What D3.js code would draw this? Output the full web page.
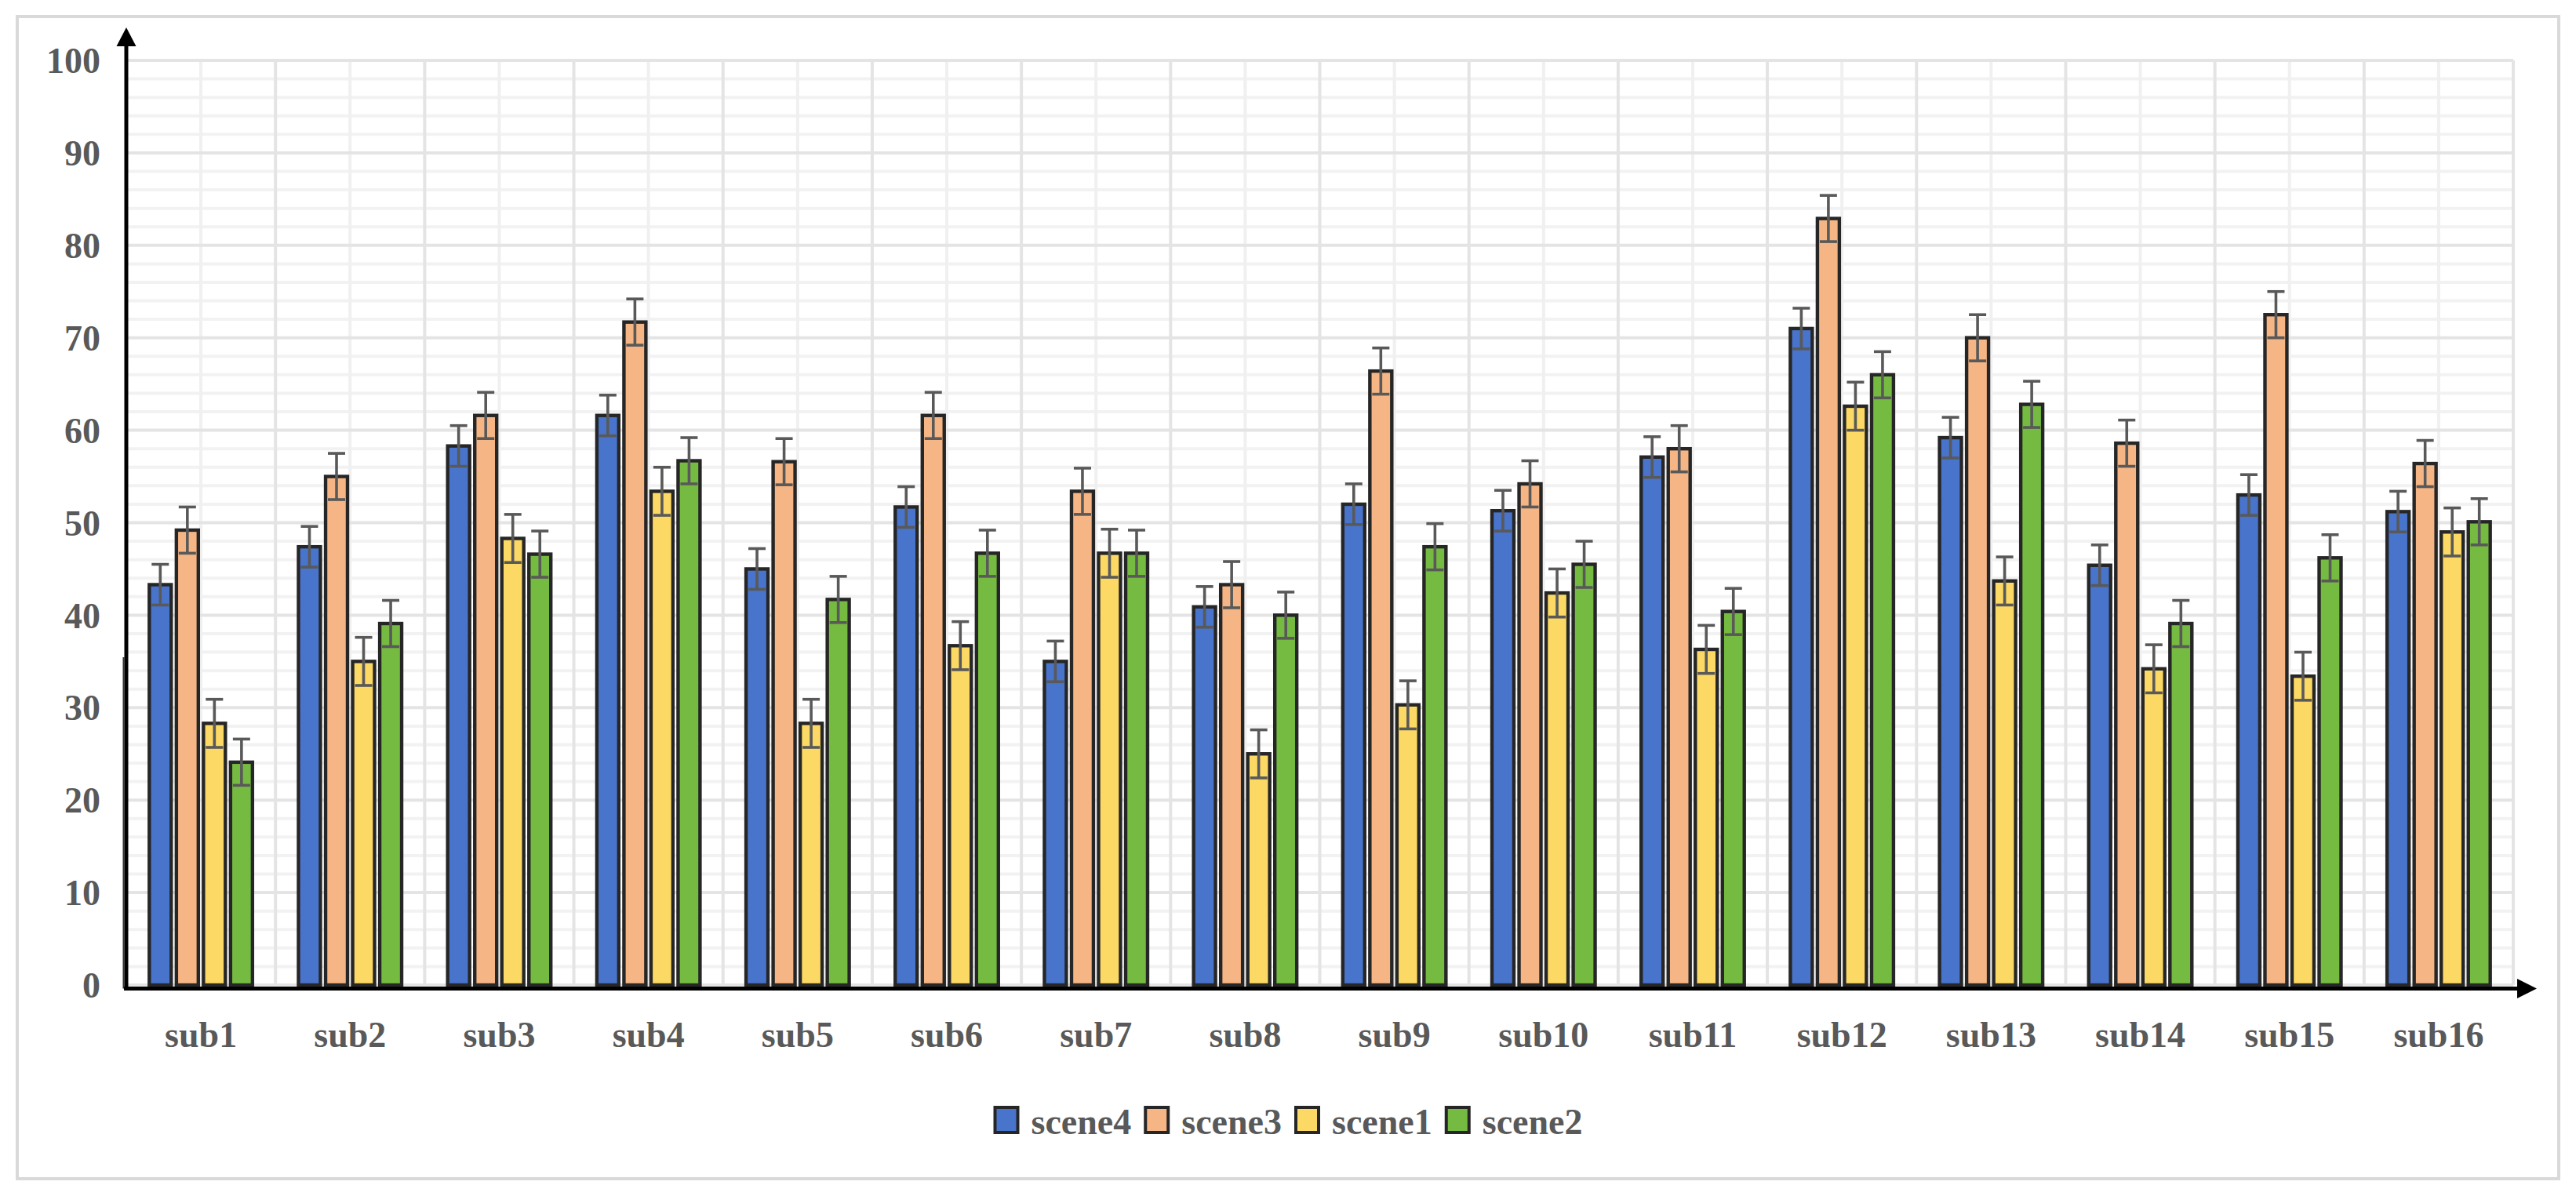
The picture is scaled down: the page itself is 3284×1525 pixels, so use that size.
<!DOCTYPE html>
<html>
<head>
<meta charset="utf-8">
<script src="https://cdn.jsdelivr.net/npm/d3@7"></script>
<style>
  body { margin: 0; background: #fff; }
  text { font-family: "Liberation Serif", "Times New Roman", serif; font-weight: bold; }
</style>
</head>
<body>
<script>
const width = 3284;
const height = 1525;

// data
const categories = ["sub1", "sub2", "sub3", "sub4", "sub5", "sub6", "sub7", "sub8",
                    "sub9", "sub10", "sub11", "sub12", "sub13", "sub14", "sub15", "sub16"];
const seriesNames = ["scene4", "scene3", "scene1", "scene2"];
const scene4 = [43.3, 47.4, 58.3, 61.6, 45.0, 51.7, 35.0, 40.9, 52.0, 51.3, 57.1, 71.0, 59.2, 45.4, 53.0, 51.2];
const scene3 = [49.2, 55.0, 61.6, 71.7, 56.6, 61.6, 53.4, 43.3, 66.4, 54.2, 58.0, 82.9, 70.0, 58.6, 72.5, 56.4];
const scene1 = [28.3, 35.0, 48.3, 53.4, 28.3, 36.7, 46.7, 25.0, 30.3, 42.4, 36.3, 62.6, 43.7, 34.2, 33.4, 49.0];
const scene2 = [24.1, 39.1, 46.6, 56.7, 41.7, 46.7, 46.7, 40.0, 47.4, 45.5, 40.4, 66.0, 62.8, 39.1, 46.2, 50.1];
const err4 = [2.2, 2.2, 2.2, 2.2, 2.2, 2.2, 2.2, 2.2, 2.2, 2.2, 2.2, 2.2, 2.2, 2.2, 2.2, 2.2];
const err3 = [2.5, 2.5, 2.5, 2.5, 2.5, 2.5, 2.5, 2.5, 2.5, 2.5, 2.5, 2.5, 2.5, 2.5, 2.5, 2.5];
const err1 = [2.6, 2.6, 2.6, 2.6, 2.6, 2.6, 2.6, 2.6, 2.6, 2.6, 2.6, 2.6, 2.6, 2.6, 2.6, 2.6];
const err2 = [2.5, 2.5, 2.5, 2.5, 2.5, 2.5, 2.5, 2.5, 2.5, 2.5, 2.5, 2.5, 2.5, 2.5, 2.5, 2.5];
const yTicks = [0, 10, 20, 30, 40, 50, 60, 70, 80, 90, 100];

const values = { scene4: scene4, scene3: scene3, scene1: scene1, scene2: scene2 };
const errors = { scene4: err4, scene3: err3, scene1: err1, scene2: err2 };
const colors = { scene4: "#4874CB", scene3: "#F5B584", scene1: "#FCD964", scene2: "#76BB41" };

const svg = d3.select("body").append("svg")
    .attr("width", width).attr("height", height);

// outer frame
svg.append("rect")
    .attr("x", 22).attr("y", 21).attr("width", 3240).attr("height", 1482)
    .attr("fill", "#fff").attr("stroke", "#d9d9d9").attr("stroke-width", 4);

const x0 = d3.scaleBand().domain(categories).range([161, 3204])
    .paddingInner(0.274).paddingOuter(0.137);
const x1 = d3.scaleBand().domain(seriesNames).range([0, x0.bandwidth()])
    .paddingInner(0.19).paddingOuter(0.095);
const y = d3.scaleLinear().domain([0, 100]).range([1256, 77]);

const left = x0.range()[0], right = x0.range()[1];
const mid = c => x0(c) + x0.bandwidth() / 2;

// grid: minor first, then major
const grid = svg.append("g");
grid.selectAll(".hminor").data(y.ticks(50).filter(t => t % 10 !== 0)).enter().append("line")
    .attr("x1", left).attr("x2", right).attr("y1", d => y(d)).attr("y2", d => y(d))
    .attr("stroke", "#f2f2f2").attr("stroke-width", 4);
grid.selectAll(".vminor").data(categories).enter().append("line")
    .attr("x1", d => mid(d)).attr("x2", d => mid(d)).attr("y1", y(100)).attr("y2", y(0))
    .attr("stroke", "#f0f0f0").attr("stroke-width", 4);
grid.selectAll(".hmajor").data(yTicks).enter().append("line")
    .attr("x1", left).attr("x2", right).attr("y1", d => y(d)).attr("y2", d => y(d))
    .attr("stroke", "#e4e4e4").attr("stroke-width", 4);
grid.selectAll(".vmajor").data(categories).enter().append("line")
    .attr("x1", d => mid(d) + x0.step() / 2).attr("x2", d => mid(d) + x0.step() / 2)
    .attr("y1", y(100)).attr("y2", y(0))
    .attr("stroke", "#e4e4e4").attr("stroke-width", 4);

// bars
const groups = svg.append("g").selectAll("g").data(categories).enter().append("g")
    .attr("transform", d => `translate(${x0(d)},0)`);

const cells = groups.selectAll("g")
    .data((c, i) => seriesNames.map(s => ({ s: s, v: values[s][i], e: errors[s][i] })))
    .enter().append("g");

cells.append("rect")
    .attr("x", d => x1(d.s)).attr("y", d => y(d.v))
    .attr("width", x1.bandwidth()).attr("height", d => y(0) - y(d.v))
    .attr("fill", d => colors[d.s]).attr("stroke", "#262626").attr("stroke-width", 4.4);

// error bars
const cap = 11;
cells.append("line")
    .attr("x1", d => x1(d.s) + x1.bandwidth() / 2).attr("x2", d => x1(d.s) + x1.bandwidth() / 2)
    .attr("y1", d => y(d.v - d.e)).attr("y2", d => y(d.v + d.e))
    .attr("stroke", "#595959").attr("stroke-width", 3.6);
cells.append("line")
    .attr("x1", d => x1(d.s) + x1.bandwidth() / 2 - cap).attr("x2", d => x1(d.s) + x1.bandwidth() / 2 + cap)
    .attr("y1", d => y(d.v + d.e)).attr("y2", d => y(d.v + d.e))
    .attr("stroke", "#595959").attr("stroke-width", 3.6);
cells.append("line")
    .attr("x1", d => x1(d.s) + x1.bandwidth() / 2 - cap).attr("x2", d => x1(d.s) + x1.bandwidth() / 2 + cap)
    .attr("y1", d => y(d.v - d.e)).attr("y2", d => y(d.v - d.e))
    .attr("stroke", "#595959").attr("stroke-width", 3.6);

// axes with arrows
const axisY = y(0) + 4.5;
svg.append("line").attr("x1", 157.5).attr("x2", 157.5).attr("y1", 838).attr("y2", axisY)
    .attr("stroke", "#333").attr("stroke-width", 2);
svg.append("line").attr("x1", left).attr("x2", left).attr("y1", axisY + 2.5).attr("y2", 58)
    .attr("stroke", "#000").attr("stroke-width", 5);
svg.append("path").attr("d", `M${left},35 L${left - 12.5},59 L${left + 12.5},59 Z`).attr("fill", "#000");
svg.append("line").attr("x1", left - 3).attr("x2", 3210).attr("y1", axisY).attr("y2", axisY)
    .attr("stroke", "#000").attr("stroke-width", 5);
svg.append("path").attr("d", `M3234,${axisY} L3209,${axisY - 12.5} L3209,${axisY + 12.5} Z`).attr("fill", "#000");

// tick labels
const yAxis = svg.append("g").attr("transform", `translate(${left},0)`)
    .call(d3.axisLeft(y).tickValues(yTicks).tickSize(0).tickPadding(33));
yAxis.select(".domain").remove();
yAxis.selectAll("text").attr("dy", "0.34em")
    .style("font-family", "'Liberation Serif', serif").style("font-weight", "bold")
    .style("font-size", "46px").attr("fill", "#595959");

const xAxis = svg.append("g").attr("transform", `translate(0,${y(0)})`)
    .call(d3.axisBottom(x0).tickSize(0));
xAxis.select(".domain").remove();
xAxis.selectAll("text").attr("y", 79).attr("dy", null)
    .style("font-family", "'Liberation Serif', serif").style("font-weight", "bold")
    .style("font-size", "46px").attr("fill", "#595959");

// legend, centred in the frame
const legend = svg.append("g");
const items = legend.selectAll("g").data(seriesNames).enter().append("g");
items.append("rect")
    .attr("x", 2).attr("y", 1412).attr("width", 29).attr("height", 32)
    .attr("fill", d => colors[d]).attr("stroke", "#262626").attr("stroke-width", 4);
items.append("text")
    .attr("x", 48).attr("y", 1446)
    .style("font-size", "46px").attr("fill", "#595959")
    .text(d => d);
let pos = 0;
const widths = [];
items.each(function () {
    const w = 48 + this.querySelector("text").getComputedTextLength();
    widths.push(pos);
    pos += w + 16;
});
const total = pos - 16;
const startX = 22 + 3240 / 2 - total / 2;
items.attr("transform", (d, i) => `translate(${startX + widths[i]},0)`);
</script>
</body>
</html>
